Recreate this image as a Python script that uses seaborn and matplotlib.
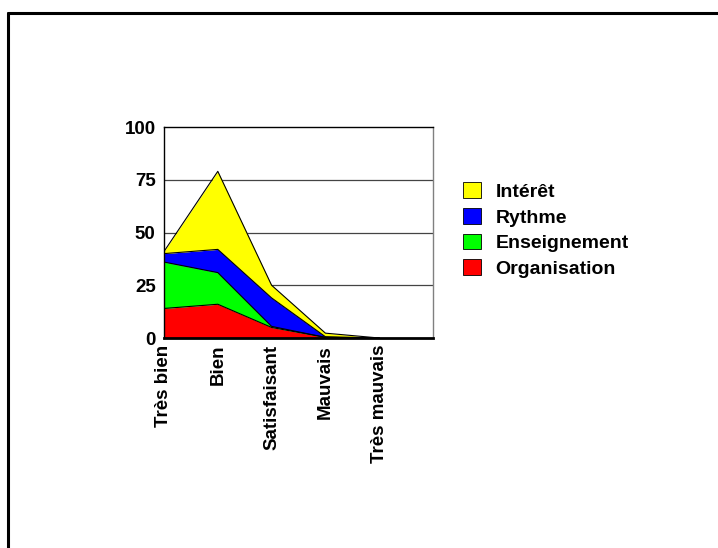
import matplotlib
matplotlib.use("Agg")
import matplotlib.pyplot as plt
import numpy as np
import pandas as pd
import seaborn as sns
from matplotlib.patches import Patch
from matplotlib.lines import Line2D

categories = ["Très bien", "Bien", "Satisfaisant", "Mauvais", "Très mauvais"]
organisation = [14, 16, 5, 0.3, 0]
enseignement = [22, 15, 0.5, 0, 0]
rythme = [4, 11, 13.5, 0.3, 0]
interet = [1, 37, 6, 1.7, 0]
y_ticks = [0, 25, 50, 75, 100]

series = ["Organisation", "Enseignement", "Rythme", "Intérêt"]
colors = ["#ff0000", "#00ff00", "#0000ff", "#ffff00"]

df = pd.DataFrame({"Organisation": organisation, "Enseignement": enseignement,
                   "Rythme": rythme, "Intérêt": interet}, index=categories)
cum = df.cumsum(axis=1)
x = np.arange(len(categories))

sns.set_style("white")
plt.rcParams["font.family"] = ["Liberation Sans", "DejaVu Sans"]
plt.rcParams["font.weight"] = "bold"
plt.rcParams["text.color"] = "black"
plt.rcParams["xtick.color"] = "black"
plt.rcParams["ytick.color"] = "black"

fig = plt.figure(figsize=(7.18, 5.48), dpi=100)
ax = fig.add_axes([0.2284, 0.3832, 0.3747, 0.385])

for yv in [25, 50, 75]:
    ax.axhline(yv, color="#444444", lw=0.9, zorder=0)

lower = np.zeros(len(x))
for name, col in zip(series, colors):
    upper = cum[name].values
    ax.fill_between(x, lower, upper, color=col, lw=0, zorder=2)
    lower = upper
for name in series:
    sns.lineplot(x=x, y=cum[name].values, ax=ax, color="black", lw=0.8, zorder=3)

ax.set_xlim(0, 5)
ax.set_ylim(0, 100)
ax.set_yticks(y_ticks)
ax.set_yticklabels([str(v) for v in y_ticks], fontsize=13.5, fontweight="bold")
ax.set_xticks(x)
ax.set_xticklabels(categories, rotation=90, fontsize=13.5, fontweight="bold",
                   va="top", ha="center")
ax.tick_params(axis="both", length=0)
ax.tick_params(axis="x", pad=5)
ax.tick_params(axis="y", pad=6)

for side in ["left", "top"]:
    ax.spines[side].set_color("black")
    ax.spines[side].set_linewidth(1.0)
ax.spines["right"].set_color("#808080")
ax.spines["right"].set_linewidth(1.0)
ax.spines["bottom"].set_color("black")
ax.spines["bottom"].set_linewidth(2.0)

handles = [Patch(facecolor=c, edgecolor="black", lw=0.6) for c in colors[::-1]]
fig.legend(handles, series[::-1], loc="upper left", bbox_to_anchor=(0.631, 0.685),
           frameon=False, prop={"weight": "bold", "size": 14}, borderpad=0,
           handlelength=0.95, handleheight=0.85, handletextpad=0.72, labelspacing=0.37)

# cadre de la page
fig.add_artist(Line2D([7.5 / 718, 7.5 / 718], [0, 1 - 12.5 / 548], color="black", lw=2.2))
fig.add_artist(Line2D([7.5 / 718, 1], [1 - 12.5 / 548, 1 - 12.5 / 548], color="black", lw=2.2))

fig.savefig("out.png", dpi=100)
